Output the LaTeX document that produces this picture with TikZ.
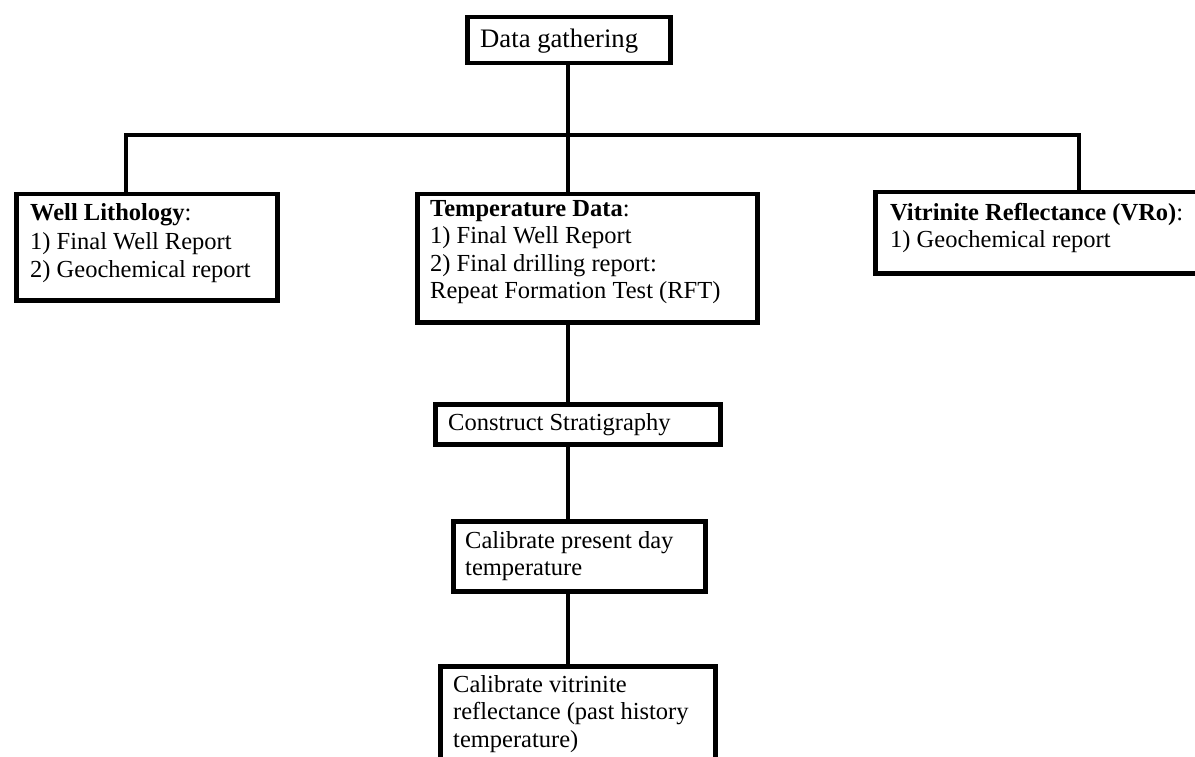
\documentclass[tikz,border=0pt]{standalone}
\usepackage{fontspec}
\setmainfont{Liberation Serif}
\newcommand\boxlines[2]{\parbox[t]{#1}{\raggedright #2}}
\begin{document}
\begin{tikzpicture}[x=1pt,y=-1pt,
  box/.style={draw, line width=4.5pt, inner sep=0pt, anchor=north west},
  txt/.style={anchor=base west, inner sep=0pt, font=\fontsize{24.5}{28}\selectfont},
  conn/.style={line width=4.5pt}]
\useasboundingbox (0,0) rectangle (1195,757);
\clip (0,0) rectangle (1195,757);
% boxes
\node[box, minimum width=203pt, minimum height=46pt] (dg) at (465,15) {};
\node[box, minimum width=261pt, minimum height=106pt] (well) at (14,192) {};
\node[box, minimum width=340pt, minimum height=128pt] (temp) at (415,192) {};
\node[box, minimum width=342pt, minimum height=81pt] (vit) at (873,190) {};
\node[box, minimum width=285pt, minimum height=40pt] (cons) at (433,402) {};
\node[box, minimum width=252pt, minimum height=70pt] (cal) at (451,519) {};
\node[box, minimum width=275pt, minimum height=140pt] (vr) at (438,664) {};
% texts
\node[txt, font=\fontsize{26.7}{30}\selectfont] (tdg) at (480,48) {Data gathering};
\node[txt] (twell) at (30,221) {\boxlines{250pt}{\fontsize{24.5}{28.5}\selectfont\textbf{Well Lithology}:\\1) Final Well Report\\2) Geochemical report}};
\node[txt] (ttemp) at (430,216) {\boxlines{330pt}{\fontsize{24.5}{27.5}\selectfont\textbf{Temperature Data}:\\1) Final Well Report\\2) Final drilling report:\\Repeat Formation Test (RFT)}};
\node[txt] (tvit) at (890,220) {\boxlines{320pt}{\fontsize{24.5}{28}\selectfont\textbf{Vitrinite Reflectance (VRo)}:\\1) Geochemical report}};
\node[txt] (tcons) at (448,430) {Construct Stratigraphy};
\node[txt] (tcal) at (465,548) {\boxlines{240pt}{\fontsize{24.5}{27}\selectfont Calibrate present day\\temperature}};
\node[txt] (tvr) at (453,692) {\boxlines{260pt}{\fontsize{24.5}{27.5}\selectfont Calibrate vitrinite\\reflectance (past history\\temperature)}};
% connectors
\coordinate (j) at (568,135);
\coordinate (hl) at (126,135);
\coordinate (hr) at (1079,135);
\draw[conn] (dg.south -| j) -- (j) -- (j |- temp.north);
\draw[conn] (hl |- well.north) -- (hl) -- (hr) -- (hr |- vit.north);
\draw[conn] (j |- temp.south) -- (j |- cons.north);
\draw[conn] (j |- cons.south) -- (j |- cal.north);
\draw[conn] (j |- cal.south) -- (j |- vr.north);
\end{tikzpicture}
\end{document}
